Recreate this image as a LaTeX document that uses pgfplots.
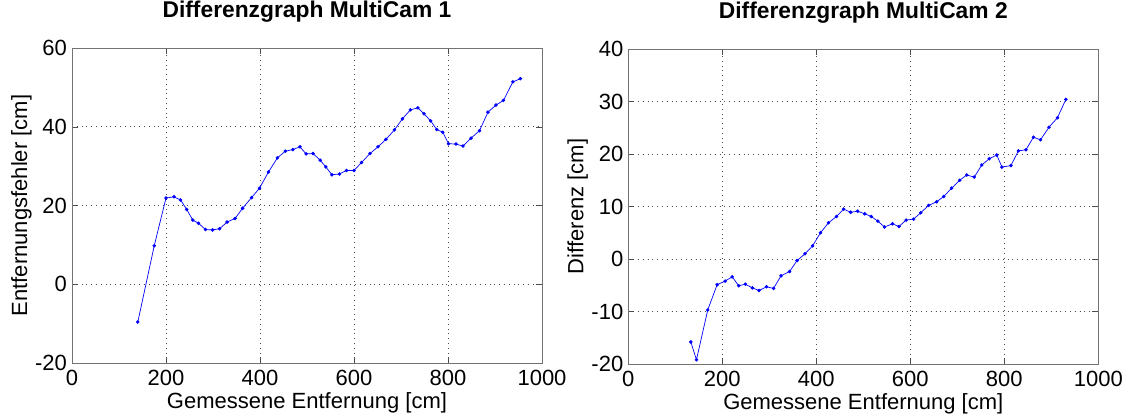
\documentclass[border=0pt]{standalone}
\usepackage{pgfplots}
\pgfplotsset{compat=1.18}
\usepackage{fontspec}
\setmainfont{Liberation Sans}
\pgfplotsset{mlab/.style={
  scale only axis, width=235pt, height=157.5pt, anchor=south west,
  xmin=0, xmax=1000, xtick={0,200,...,1000},
  grid=major, grid style={dotted, black!70, line width=0.4pt},
  axis line style={black!55}, tick style={black!70},
  tick align=inside, major tick length=3pt,
  every tick label/.append style={font=\fontsize{11}{12}\selectfont, black},
  /pgf/number format/assume math mode=true,
  /pgf/number format/1000 sep={},
  yticklabel style={xshift=1pt},
  label style={font=\fontsize{11}{12}\selectfont},
  xlabel style={at={(axis description cs:0.5,-0.1429)}, anchor=base},
  ylabel style={at={(axis description cs:-0.0957,0.5)}, anchor=base, rotate=0},
  title style={font=\bfseries\fontsize{11.4}{12}\selectfont, at={(axis description cs:0.5,1.0584)}, anchor=base},
  xlabel={Gemessene Entfernung [cm]},
  scaled ticks=false,
}}
\begin{document}
\begin{tikzpicture}[x=1pt,y=1pt]
\useasboundingbox (0,0) rectangle (563.5,207.5);
\begin{axis}[mlab, at={(36pt,26pt)}, ymin=-20, ymax=60, ytick={-20,0,...,60},
  title={Differenzgraph MultiCam 1}, ylabel={Entfernungsfehler [cm]}]
\addplot[blue, line width=0.35pt, mark=*, mark size=0.7pt] coordinates {
(140,-9.6) (175,9.8) (200,21.9) (217,22.2) (231,21.4) (244,19.0) (257,16.3) (269,15.5) (284,13.9) (299,13.8) (314,14.1) (330,15.8) (347,16.7) (363,19.3) (382,22.0) (399,24.4) (418,28.5) (437,32.1) (454,33.8) (470,34.2) (485,34.9) (498,33.1) (513,33.2) (528,31.5) (540,29.8) (553,27.8) (569,28.0) (584,28.9) (600,28.9) (616,30.9) (634,33.2) (651,34.9) (668,36.8) (686,39.2) (703,42.0) (720,44.3) (736,44.8) (749,43.3) (763,41.5) (776,39.3) (789,38.6) (801,35.7) (817,35.6) (832,35.1) (849,37.1) (867,39.0) (885,43.7) (902,45.5) (918,46.7) (938,51.4) (954,52.2)
};
\end{axis}
\begin{axis}[mlab, at={(314.15pt,25.5pt)}, ymin=-20, ymax=40, ytick={-20,-10,...,40},
  title={Differenzgraph MultiCam 2}, ylabel={Differenz [cm]}]
\addplot[blue, line width=0.35pt, mark=*, mark size=0.7pt] coordinates {
(133,-15.8) (145,-19.2) (169,-9.7) (189,-4.9) (206,-4.2) (221,-3.4) (235,-5.1) (249,-4.8) (264,-5.5) (278,-6.0) (294,-5.3) (309,-5.6) (325,-3.2) (343,-2.4) (359,-0.3) (376,1.0) (392,2.5) (409,5.0) (426,6.9) (443,8.1) (458,9.5) (473,8.9) (488,9.1) (503,8.6) (517,8.1) (531,7.2) (545,6.1) (562,6.7) (576,6.2) (591,7.4) (607,7.6) (622,8.8) (639,10.2) (656,10.9) (671,11.9) (688,13.5) (705,15.0) (720,16.0) (736,15.6) (752,17.9) (768,19.1) (784,19.8) (795,17.5) (814,17.8) (830,20.6) (846,20.8) (862,23.2) (877,22.7) (895,25.1) (913,26.9) (931,30.4)
};
\end{axis}
\end{tikzpicture}
\end{document}
